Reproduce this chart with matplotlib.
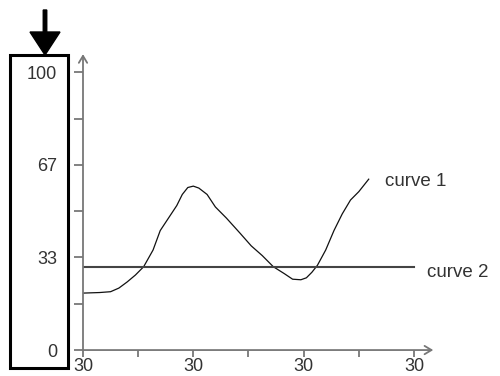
import matplotlib

matplotlib.use("Agg")
import matplotlib.pyplot as plt
from matplotlib.patches import FancyArrow, Rectangle

plt.rcParams["font.family"] = ["Liberation Sans", "DejaVu Sans"]

AXIS_COLOR = "#777777"
TEXT_COLOR = "#333333"

# curve 1: hand-drawn wave
curve1_x = [0, 0.3, 0.5, 0.65, 0.8, 0.95, 1.1, 1.27, 1.4, 1.55, 1.7, 1.8, 1.9, 2.0,
            2.1, 2.25, 2.4, 2.6, 2.85, 3.05, 3.25, 3.45, 3.65, 3.8, 3.95, 4.05,
            4.15, 4.25, 4.4, 4.55, 4.7, 4.85, 5.0, 5.18]
curve1_y = [20.5, 20.7, 21, 22.3, 24.5, 27, 30, 36, 43, 47.5, 52, 56, 58.5, 59,
            58.3, 56, 51.5, 47.5, 42, 37.5, 34, 30, 27.5, 25.5, 25.3, 26,
            28, 30.5, 36, 43, 49, 54, 57, 61.5]

# curve 2: flat line
curve2_x = [0, 6]
curve2_y = [29.9, 29.9]

y_ticks = [0, 100 / 6, 100 / 3, 50, 200 / 3, 500 / 6, 100]
y_labels = ["0", "", "33", "", "67", "", "100"]
x_ticks = [0, 1, 2, 3, 4, 5, 6]
x_labels = ["30", "", "30", "", "30", "", "30"]

fig = plt.figure(figsize=(5, 3.76), dpi=100)
ax = fig.add_axes([0.166, 0.069, 0.706, 0.787])
ax.set_xlim(0, 6.4)
ax.set_ylim(0, 106.5)
for s in ax.spines.values():
    s.set_visible(False)

ax.plot(curve1_x, curve1_y, color="#111111", lw=0.9)
ax.plot(curve2_x, curve2_y, color="#444444", lw=1.5)

ax.text(5.47, 60.6, "curve 1", fontsize=13.5, color=TEXT_COLOR, va="center", ha="left")
ax.text(6.24, 28, "curve 2", fontsize=13.5, color=TEXT_COLOR, va="center", ha="left",
        clip_on=False)

# axes with open arrow heads
ax.annotate("", xy=(0, 106.5), xytext=(0, 0), annotation_clip=False,
            arrowprops=dict(arrowstyle="->,head_length=0.5,head_width=0.3",
                            color=AXIS_COLOR, lw=1.3, shrinkA=0, shrinkB=0))
ax.annotate("", xy=(6.35, 0), xytext=(0, 0), annotation_clip=False,
            arrowprops=dict(arrowstyle="->,head_length=0.5,head_width=0.3",
                            color=AXIS_COLOR, lw=1.3, shrinkA=0, shrinkB=0))

ax.set_yticks(y_ticks)
ax.set_yticklabels(y_labels)
ax.set_xticks(x_ticks)
ax.set_xticklabels(x_labels)
ax.tick_params(axis="y", direction="out", length=6.5, width=1.3, color=AXIS_COLOR,
               labelsize=13, labelcolor=TEXT_COLOR, pad=12)
ax.tick_params(axis="x", direction="out", length=5, width=1.3, color=AXIS_COLOR,
               labelsize=13, labelcolor=TEXT_COLOR, pad=1)

# highlight box around y labels and pointer arrow
fig.add_artist(Rectangle((0.10, 0.08), 0.58, 3.13, fill=False, lw=2.2,
                         edgecolor="black", transform=fig.dpi_scale_trans))
fig.add_artist(FancyArrow(0.45, 3.66, 0, -0.45, width=0.035, head_width=0.30,
                          head_length=0.23, length_includes_head=True,
                          color="black", transform=fig.dpi_scale_trans))

fig.savefig("out.png", dpi=100)
